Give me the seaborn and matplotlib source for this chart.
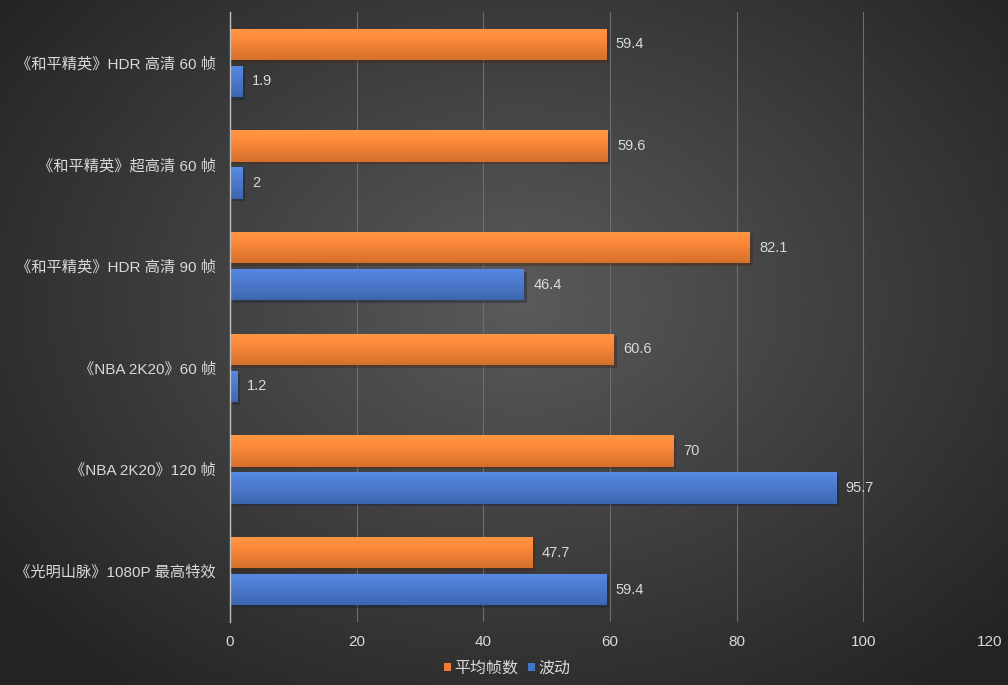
import numpy as np
import pandas as pd
import matplotlib
matplotlib.use("Agg")
import matplotlib.pyplot as plt
import matplotlib.patheffects as pe
import seaborn as sns

# data
games = ['《和平精英》HDR 高清 60 帧', '《和平精英》超高清 60 帧', '《和平精英》HDR 高清 90 帧',
         '《NBA 2K20》60 帧', '《NBA 2K20》120 帧', '《光明山脉》1080P 最高特效']
avg_fps = [59.4, 59.6, 82.1, 60.6, 70, 47.7]
jitter = [1.9, 2, 46.4, 1.2, 95.7, 59.4]
series = ['平均帧数', '波动']
colors = ['#ED7D31', '#4472C4']

df = pd.DataFrame({
    'game': games * 2,
    'value': avg_fps + jitter,
    'series': [series[0]] * len(games) + [series[1]] * len(games),
})

sns.set_theme(style="dark")
plt.rcParams['font.family'] = ['Liberation Sans', 'Noto Sans CJK SC', 'DejaVu Sans']
text_col = '#d9d9d9'

fig = plt.figure(figsize=(10.08, 6.85), dpi=100)

# radial grey background
bg = fig.add_axes([0, 0, 1, 1], zorder=-10)
yy, xx = np.mgrid[0:685, 0:1008]
r = np.sqrt(((xx - 520) / 640.0) ** 2 + ((yy - 300) / 480.0) ** 2)
shade = np.clip(0.355 - 0.21 * r, 0.14, 0.355)
bg.imshow(np.dstack([shade] * 3), aspect='auto', extent=[0, 1, 0, 1])
bg.set_axis_off()

ax = fig.add_axes([230 / 1008, 1 - 622 / 685, 760 / 1008, 610 / 685])
ax.patch.set_alpha(0)
sns.barplot(data=df, x='value', y='game', hue='series', palette=colors,
            width=0.73, gap=0.16, saturation=1, linewidth=0, edgecolor='none',
            ax=ax, legend=True)

# value labels, gradient + shadow on bars
for cont in ax.containers:
    ax.bar_label(cont, fmt='%g', padding=7, color=text_col, fontsize=10.5)
    for bar in cont:
        bar.set_path_effects([pe.SimplePatchShadow(offset=(2, -2), alpha=0.4), pe.Normal()])
        c = np.array(matplotlib.colors.to_rgb(bar.get_facecolor()))
        grad = np.linspace(0, 1, 32)[:, None, None]
        img = c * (1.1 - 0.2 * grad) + 0.05 * (1 - grad)
        img = np.clip(np.repeat(img, 2, axis=1), 0, 1)
        x0, y0 = bar.get_x(), bar.get_y()
        im = ax.imshow(img, aspect='auto', zorder=bar.get_zorder() + 0.1,
                       extent=[x0, x0 + bar.get_width(), y0 + bar.get_height(), y0])
        im.set_clip_path(bar)

ax.set_xlim(0, 120)
ax.set_ylim(5.5, -0.5)
ax.set_xticks(range(0, 121, 20))
ax.grid(axis='x', color='#6e6e6e', linewidth=0.8)
ax.grid(axis='y', visible=False)
for s in ['top', 'right', 'bottom']:
    ax.spines[s].set_visible(False)
ax.spines['left'].set_color('#bfbfbf')
ax.spines['left'].set_linewidth(1)
ax.tick_params(axis='both', length=0, colors=text_col, labelsize=11)
ax.tick_params(axis='y', pad=10)
ax.tick_params(axis='x', pad=9)
ax.set_xlabel('')
ax.set_ylabel('')

handles, labels = ax.get_legend_handles_labels()
ax.legend_.remove()
fig.legend(handles, labels, loc='center', bbox_to_anchor=(0.503, 1 - 668 / 685),
           ncol=2, frameon=False, handlelength=0.45, handleheight=0.45,
           handletextpad=0.2, columnspacing=0.6, fontsize=11.5, labelcolor=text_col)

fig.savefig('out.png', dpi=100)
